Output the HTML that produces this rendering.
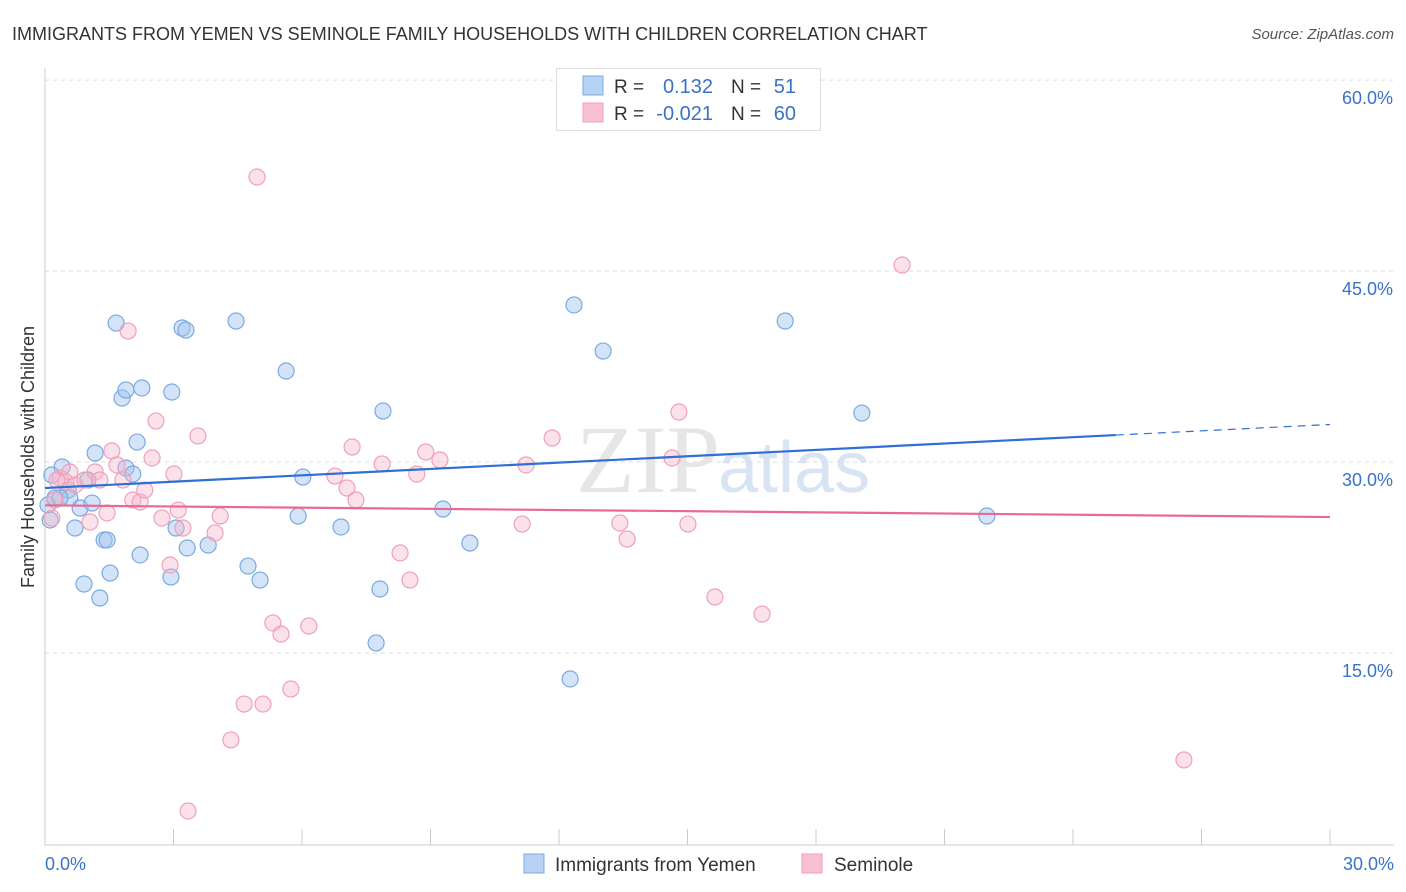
<!DOCTYPE html>
<html><head><meta charset="utf-8">
<style>
body{margin:0;background:#fff;font-family:"Liberation Sans",sans-serif;}
#wrap{position:relative;width:1406px;height:892px;overflow:hidden;}
</style></head>
<body>
<div id="wrap">
<svg id="chart" width="1406" height="892">
<text x="12" y="40" font-size="18" fill="#333">IMMIGRANTS FROM YEMEN VS SEMINOLE FAMILY HOUSEHOLDS WITH CHILDREN CORRELATION CHART</text>
<text x="1394" y="39" font-size="15" fill="#555" font-style="italic" text-anchor="end">Source: ZipAtlas.com</text>
<text x="720" y="492" font-size="96" fill="#e6e6e6" font-family="Liberation Serif" text-anchor="end">ZIP</text>
<text x="718" y="492" font-size="72" fill="#d8e4f4">atlas</text>
<g id="grid"></g>
<g id="axes"></g>
<g id="pts"></g>
<g id="trend"></g>
<text transform="translate(34,457) rotate(-90)" font-size="18" fill="#333" text-anchor="middle">Family Households with Children</text>
<g>
<rect x="556.5" y="68.5" width="264" height="62" fill="#fff" stroke="#ddd"/>
<rect x="583" y="76" width="20" height="19" fill="#b8d2f4" stroke="#7aaae0"/>
<rect x="583" y="103" width="20" height="19" fill="#f8c0d0" stroke="#f0a0b8"/>
<text x="614" y="93" font-size="19" fill="#333">R = </text>
<text x="713" y="93" font-size="20" fill="#3a72c8" text-anchor="end">0.132</text>
<text x="731" y="93" font-size="19" fill="#333">N = </text>
<text x="796" y="93" font-size="20" fill="#3a72c8" text-anchor="end">51</text>
<text x="614" y="120" font-size="19" fill="#333">R = </text>
<text x="713" y="120" font-size="20" fill="#3a72c8" text-anchor="end">-0.021</text>
<text x="731" y="120" font-size="19" fill="#333">N = </text>
<text x="796" y="120" font-size="20" fill="#3a72c8" text-anchor="end">60</text>
</g>
<g>
<rect x="524" y="854" width="20" height="19" fill="#b8d2f4" stroke="#7aaae0"/>
<text x="555" y="871" font-size="19" fill="#333">Immigrants from Yemen</text>
<rect x="802" y="854" width="20" height="19" fill="#f8c0d0" stroke="#f0a0b8"/>
<text x="834" y="871" font-size="19" fill="#333">Seminole</text>
</g>
</svg>
</div>
<script>
const yTicks=[15,30,45,60];
const yTickLabels=["15.0%","30.0%","45.0%","60.0%"];
const xTickVals=[0,3,6,9,12,15,18,21,24,27,30];
const xEndLabels=["0.0%","30.0%"];
const blueX=[0.16,0.07,0.23,0.40,0.54,0.58,0.70,0.82,0.91,1.00,1.10,1.17,1.28,1.38,1.45,1.52,1.66,1.80,1.89,1.89,2.05,2.15,2.22,2.26,2.94,2.96,3.06,3.20,3.29,3.32,3.81,4.46,4.74,5.02,5.63,5.91,6.02,6.91,7.82,7.89,7.73,9.29,9.92,12.26,12.35,13.03,17.28,19.07,21.99,0.12,0.35];
const blueY=[28.98,26.63,27.18,29.61,27.80,27.18,24.82,26.39,20.42,28.59,26.78,30.71,19.32,23.88,23.88,21.28,40.92,35.03,35.66,29.53,29.06,31.57,22.70,35.82,20.97,35.50,24.82,40.53,40.37,23.25,23.48,41.08,21.83,20.73,37.15,25.76,28.82,24.90,20.03,34.01,15.79,26.31,23.64,12.96,42.34,38.72,41.08,33.85,25.76,25.45,27.18];
const pinkX=[0.16,0.23,0.35,0.49,0.58,0.70,0.93,1.05,1.17,1.28,1.45,1.56,1.68,1.82,1.94,2.05,2.22,2.33,2.50,2.59,2.73,2.92,3.01,3.11,3.22,3.57,3.97,4.09,4.34,4.65,4.95,5.09,5.32,5.51,5.74,6.16,6.77,7.05,7.17,7.26,7.87,8.29,8.52,8.68,8.89,9.22,11.14,11.23,11.84,13.42,13.59,14.64,14.80,15.01,15.64,16.74,20.01,26.59,3.34,0.28];
const pinkY=[25.60,27.02,28.75,28.43,29.22,28.20,28.59,25.29,29.22,28.59,26.00,30.87,29.77,28.59,40.29,27.02,26.86,27.80,30.32,33.22,25.60,21.91,29.06,26.23,24.82,32.05,24.43,25.76,8.17,10.99,52.39,10.99,17.36,16.49,12.17,17.12,28.90,27.96,31.18,27.02,29.85,22.86,20.73,29.06,30.79,30.16,25.13,29.77,31.89,25.21,23.95,30.32,33.93,25.13,19.40,18.06,45.48,6.60,2.59,28.59];
const blueTrend=[[0,27.96],[25,32.12],[30,32.95]];
const pinkTrend=[[0,26.6],[30,25.68]];

const NS="http://www.w3.org/2000/svg";
const X0=45,X1=1330,Y15=653,PX=12.73;
const sx=v=>X0+(v/30)*(X1-X0);
const sy=v=>Y15-(v-15)*PX;
function mk(tag,attrs,parent){const e=document.createElementNS(NS,tag);for(const k in attrs)e.setAttribute(k,attrs[k]);parent.appendChild(e);return e;}
const grid=document.getElementById('grid'),axes=document.getElementById('axes'),pts=document.getElementById('pts'),trend=document.getElementById('trend');
yTicks.forEach((t,i)=>{
 const l=mk('line',{x1:X0,x2:1394,y1:sy(t),y2:sy(t),stroke:'#ddd','stroke-dasharray':'4,4'},grid);
 
 
 const tx=mk('text',{x:1393,y:sy(t)+24,'font-size':18,fill:'#3a72c8','text-anchor':'end'},axes);
 tx.textContent=yTickLabels[i];
 
 
});
const ax=mk('path',{d:`M${X0} 68V845H1394`,stroke:'#ccc',fill:'none'},axes);


xTickVals.forEach(t=>{
 const l=mk('line',{x1:sx(t),x2:sx(t),y1:829,y2:845,stroke:'#ccc'},axes);
 
 
});
[[0,'start',45],[30,'end',1394]].forEach((d,i)=>{
 const tx=mk('text',{x:d[2],y:870,'font-size':18,fill:'#3a72c8','text-anchor':d[1]},axes);
 tx.textContent=xEndLabels[i];
 
 
});
blueX.forEach((x,i)=>{
 const c=mk('circle',{cx:sx(x),cy:sy(blueY[i]),r:8,fill:'rgba(160,196,240,0.45)',stroke:'#7aaae0','stroke-width':1.2},pts);
 
 
});
pinkX.forEach((x,i)=>{
 const c=mk('circle',{cx:sx(x),cy:sy(pinkY[i]),r:8,fill:'rgba(246,180,200,0.4)',stroke:'#f0a0b8','stroke-width':1.2},pts);
 
 
});
const bl=mk('line',{x1:sx(blueTrend[0][0]),y1:sy(blueTrend[0][1]),x2:sx(blueTrend[1][0]),y2:sy(blueTrend[1][1]),stroke:'#2f6fd6','stroke-width':2.2},trend);


const bd=mk('line',{x1:sx(blueTrend[1][0]),y1:sy(blueTrend[1][1]),x2:sx(blueTrend[2][0]),y2:sy(blueTrend[2][1]),stroke:'#2f6fd6','stroke-width':1.2,'stroke-dasharray':'8,6'},trend);


const pl=mk('line',{x1:sx(pinkTrend[0][0]),y1:sy(pinkTrend[0][1]),x2:sx(pinkTrend[1][0]),y2:sy(pinkTrend[1][1]),stroke:'#e86a94','stroke-width':2.2},trend);


</script>
</body></html>
